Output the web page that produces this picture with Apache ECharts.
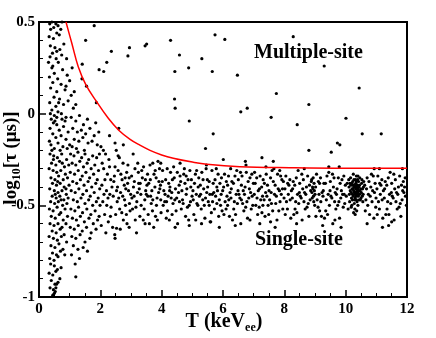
<!DOCTYPE html>
<html lang="en">
<head>
    <meta charset="UTF-8">
    <title>pulse rise time vs energy</title>
    <script src="https://cdn.jsdelivr.net/npm/echarts@6/dist/echarts.min.js"></script>
    <style>
        html, body { margin: 0; padding: 0; background: #fff; }
        #main { width: 436px; height: 338px; }
    </style>
</head>
<body>
<div id="main"></div>
<script>
    // values: [T (keVee), log10 tau]
    const upperLeft = [
        [.35,.49],[.42,.5],[.55,.49],[.62,.48],[.75,.5],[.38,.46],[.58,.44],[.33,.42],[.47,.41],[.66,.43],
        [.37,.37],[.52,.36],[.44,.33],[.68,.35],[.81,.38],[.36,.31],[.56,.3],[.74,.32],[.9,.3],[.63,.28],
        [.42,.25],[.5,.22],[.34,.2],[.61,.19],[.77,.24],[.92,.21],[.45,.17],[.72,.16],[1.0,.18],[.38,.14],
        [.58,.12],[.85,.13],[.49,.09],[.67,.08],[1.05,.1],[.35,.06],[.8,.05],[.55,.04],[.95,.07],[.42,.02],
        [.62,.01],[1.12,.03],[.37,0],[.5,-.01],[.73,0],[.88,-.02],[1.2,.05],[.45,.26],[.88,.15],[1.15,.12],
        [.58,.34],[.71,.46],[.48,.47],[1.08,.25],[.64,.06],[.31,.28]
    ];
    const leftColumn = [
        [.4,-.03],[.47,-.05],[.52,-.04],[.58,-.06],[.36,-.08],[.66,-.09],[.8,-.07],[.95,-.1],[.45,-.11],[.55,-.13],
        [.72,-.12],[.88,-.14],[.34,-.15],[.62,-.16],[.78,-.18],[1.0,-.17],[.5,-.19],[.42,-.2],[.69,-.2],[.92,-.19],
        [.58,-.02],[.85,-.04],[.39,-.17],[.75,-.03],
        [.36,-.22],[.48,-.23],[.6,-.24],[.74,-.22],[.9,-.25],[.41,-.27],[.55,-.28],[.67,-.26],[.83,-.29],[.97,-.28],
        [.33,-.3],[.46,-.31],[.58,-.32],[.71,-.31],[.86,-.33],[.39,-.35],[.52,-.36],[.64,-.34],[.79,-.36],[.93,-.35],
        [.44,-.38],[.57,-.39],[.69,-.38],[.82,-.4],[.98,-.39],[.35,-.41],[.5,-.42],[.62,-.43],[.75,-.42],[.89,-.44],
        [.43,-.45],[.56,-.46],[.68,-.45],[.81,-.47],[.95,-.46],[.38,-.48],[.51,-.49],[.63,-.48],[.77,-.5],[.91,-.49],
        [.47,-.25],[.76,-.27],[.61,-.37],[.88,-.41],[.53,-.44],[.72,-.47],
        [.34,-.52],[.46,-.53],[.59,-.51],[.71,-.54],[.85,-.52],[.4,-.56],[.53,-.57],[.66,-.55],[.79,-.58],[.93,-.56],
        [.36,-.6],[.49,-.61],[.62,-.6],[.75,-.62],[.88,-.6],[.43,-.64],[.56,-.65],[.69,-.63],[.82,-.66],[.33,-.67],
        [.47,-.68],[.6,-.69],[.73,-.67],[.9,-.7],[.39,-.72],[.52,-.73],[.65,-.71],[.78,-.74],[.44,-.76],[.57,-.77],
        [.7,-.75],[.35,-.79],[.49,-.8],[.62,-.78],[.84,-.77],
        [.38,-.82],[.5,-.83],[.6,-.85],[.72,-.84],[.33,-.87],[.45,-.88],[.55,-.86],[.68,-.9],[.4,-.91],[.52,-.93],
        [.62,-.92],[.36,-.95],[.47,-.96],[.5,-.98],[.53,-.97],[.55,-.95],[.45,-.99],[.57,-.93]
    ];
    const lowEnergy = [
        [1.05,-.02],[1.2,-.04],[1.32,-.01],[1.45,-.06],[1.58,-.03],[1.1,-.08],[1.25,-.1],[1.38,-.09],[1.52,-.11],[1.66,-.08],
        [1.8,-.12],[1.15,-.14],[1.3,-.15],[1.43,-.13],[1.6,-.16],[1.73,-.15],[1.9,-.17],[1.08,-.18],[1.22,-.19],[1.48,-.2],
        [1.85,-.05],[1.95,-.1],
        [1.03,-.22],[1.14,-.23],[1.27,-.21],[1.39,-.24],[1.5,-.22],[1.62,-.25],[1.75,-.23],[1.88,-.24],[1.97,-.22],
        [1.08,-.27],[1.2,-.28],[1.33,-.26],[1.45,-.29],[1.57,-.27],[1.7,-.3],[1.82,-.28],[1.94,-.31],
        [1.02,-.32],[1.16,-.33],[1.28,-.31],[1.41,-.34],[1.53,-.32],[1.65,-.35],[1.78,-.33],[1.9,-.36],
        [1.1,-.37],[1.23,-.38],[1.35,-.36],[1.47,-.39],[1.6,-.37],[1.72,-.4],[1.85,-.38],[1.98,-.41],
        [1.05,-.42],[1.18,-.43],[1.3,-.41],[1.43,-.44],[1.55,-.42],[1.67,-.45],[1.8,-.43],[1.93,-.46],
        [1.12,-.47],[1.25,-.48],[1.37,-.46],[1.5,-.49],[1.62,-.47],[1.75,-.5],[1.87,-.48],[1.99,-.5],
        [1.04,-.52],[1.17,-.53],[1.29,-.51],[1.42,-.54],[1.56,-.52],[1.69,-.55],[1.83,-.53],[1.96,-.56],
        [1.09,-.57],[1.22,-.58],[1.35,-.56],[1.48,-.59],[1.63,-.57],[1.77,-.6],[1.91,-.58],
        [1.02,-.62],[1.15,-.63],[1.28,-.61],[1.41,-.64],[1.55,-.62],[1.7,-.65],[1.86,-.63],
        [1.07,-.67],[1.2,-.68],[1.34,-.66],[1.5,-.7],[1.66,-.68],[1.12,-.72],[1.27,-.74],[1.44,-.73],[1.06,-.77],[1.32,-.79],
        [1.18,-.82],[1.2,-.89],[1.58,-.75]
    ];
    const band2to4 = [
        [2.02,-.18],[2.11,-.3],[2.2,-.42],[2.28,-.25],[2.35,-.51],[2.44,-.37],[2.52,-.2],[2.6,-.46],[2.67,-.33],[2.75,-.58],
        [2.83,-.41],[2.9,-.28],[2.97,-.53],[2.05,-.39],[2.14,-.55],[2.23,-.33],[2.31,-.44],[2.4,-.62],[2.48,-.29],[2.56,-.4],
        [2.63,-.52],[2.71,-.36],[2.79,-.47],[2.87,-.6],[2.94,-.35],[2.08,-.48],[2.17,-.22],[2.26,-.59],[2.34,-.36],[2.42,-.45],
        [2.5,-.55],[2.58,-.31],[2.66,-.43],[2.74,-.27],[2.82,-.5],[2.89,-.38],[2.99,-.44],[2.03,-.61],[2.12,-.44],[2.21,-.5],
        [2.3,-.29],[2.38,-.4],[2.47,-.66],[2.55,-.48],[2.62,-.24],[2.7,-.54],[2.78,-.39],[2.86,-.32],[2.95,-.49],[2.06,-.27],
        [2.15,-.36],[2.25,-.46],[2.33,-.56],[2.46,-.34],[2.53,-.42],[2.65,-.63],[2.73,-.45],[2.81,-.35],[2.92,-.42],[2.48,-.68],
        [2.18,-.65],[2.58,-.23],[2.85,-.55],[2.53,-.625],[2.94,-.62],
        [3.02,-.34],[3.1,-.45],[3.18,-.65],[3.25,-.38],[3.33,-.5],[3.41,-.29],[3.48,-.42],[3.56,-.55],[3.63,-.36],[3.71,-.47],
        [3.79,-.31],[3.86,-.58],[3.94,-.41],[3.05,-.52],[3.13,-.3],[3.21,-.43],[3.29,-.56],[3.37,-.35],[3.45,-.47],[3.52,-.39],
        [3.6,-.6],[3.68,-.42],[3.75,-.33],[3.83,-.5],[3.91,-.37],[3.98,-.54],[3.08,-.4],[3.16,-.51],[3.24,-.32],[3.32,-.44],
        [3.4,-.58],[3.47,-.36],[3.55,-.45],[3.62,-.28],[3.7,-.53],[3.78,-.4],[3.85,-.46],[3.93,-.3],[3.03,-.46],[3.11,-.37],
        [3.19,-.48],[3.27,-.41],[3.35,-.31],[3.43,-.52],[3.5,-.44],[3.58,-.38],[3.66,-.49],[3.74,-.62],[3.82,-.35],[3.9,-.43],
        [3.97,-.47],[3.14,-.58],[3.3,-.38],[3.46,-.6],[3.64,-.45],[3.8,-.56],[3.96,-.39],[3.22,-.27],[3.54,-.33],[3.88,-.26]
    ];
    const band4to7 = [
        [4.02,-.37],[4.1,-.48],[4.18,-.3],[4.26,-.42],[4.34,-.55],[4.41,-.35],[4.49,-.46],[4.57,-.39],[4.64,-.52],[4.72,-.33],
        [4.8,-.44],[4.88,-.58],[4.95,-.4],[4.05,-.5],[4.13,-.36],[4.21,-.45],[4.29,-.32],[4.37,-.49],[4.45,-.41],[4.52,-.6],
        [4.6,-.34],[4.68,-.47],[4.76,-.38],[4.84,-.51],[4.92,-.31],[4.99,-.45],[4.07,-.42],[4.15,-.57],[4.23,-.38],[4.31,-.46],
        [4.39,-.29],[4.47,-.53],[4.55,-.43],[4.62,-.37],[4.7,-.49],[4.78,-.56],[4.86,-.36],[4.94,-.48],[4.03,-.31],[4.11,-.44],
        [4.19,-.53],[4.27,-.4],[4.35,-.36],[4.43,-.47],[4.51,-.32],[4.58,-.48],[4.66,-.42],[4.74,-.3],[4.82,-.41],[4.9,-.5],
        [4.97,-.36],[4.25,-.58],[4.9,-.61],[4.44,-.62],[4.6,-.27],[4.33,-.43],[4.8,-.34],[4.16,-.48],
        [5.02,-.42],[5.1,-.33],[5.18,-.5],[5.26,-.39],[5.34,-.47],[5.41,-.57],[5.49,-.36],[5.57,-.44],[5.64,-.31],[5.72,-.52],
        [5.8,-.4],[5.88,-.47],[5.95,-.35],[5.05,-.55],[5.13,-.44],[5.21,-.35],[5.29,-.52],[5.37,-.41],[5.45,-.3],[5.52,-.48],
        [5.6,-.59],[5.68,-.38],[5.76,-.45],[5.84,-.33],[5.92,-.5],[5.99,-.42],[5.07,-.38],[5.15,-.49],[5.23,-.45],[5.31,-.32],
        [5.39,-.5],[5.47,-.43],[5.55,-.37],[5.62,-.54],[5.7,-.43],[5.78,-.3],[5.86,-.56],[5.94,-.44],[5.03,-.47],[5.11,-.58],
        [5.19,-.4],[5.27,-.44],[5.35,-.36],[5.43,-.46],[5.5,-.4],[5.58,-.59],[5.66,-.48],[5.74,-.36],[5.82,-.42],[5.9,-.38],
        [5.97,-.53],[5.3,-.6],[5.46,-.28],[5.65,-.44],[5.8,-.49],[5.14,-.31],[5.55,-.5],[5.88,-.62],
        [6.02,-.4],[6.1,-.52],[6.18,-.34],[6.26,-.46],[6.34,-.38],[6.41,-.55],[6.49,-.42],[6.57,-.32],[6.64,-.49],[6.72,-.4],
        [6.8,-.57],[6.88,-.35],[6.95,-.45],[6.05,-.33],[6.13,-.45],[6.21,-.56],[6.29,-.37],[6.37,-.48],[6.45,-.31],[6.52,-.44],
        [6.6,-.39],[6.68,-.53],[6.76,-.32],[6.84,-.46],[6.92,-.52],[6.99,-.38],[6.07,-.48],[6.15,-.39],[6.23,-.43],[6.31,-.58],
        [6.39,-.34],[6.47,-.49],[6.55,-.46],[6.62,-.34],[6.7,-.44],[6.78,-.48],[6.86,-.41],[6.94,-.33],[6.03,-.55],[6.11,-.37],
        [6.19,-.47],[6.27,-.41],[6.35,-.52],[6.43,-.44],[6.5,-.36],[6.58,-.6],[6.66,-.42],[6.74,-.51],[6.82,-.37],[6.9,-.43],
        [6.97,-.5],[6.25,-.3],[6.4,-.61],[6.6,-.47],[6.75,-.28],[6.88,-.58],[6.15,-.5]
    ];
    const band7to10 = [
        [7.02,-.44],[7.1,-.35],[7.18,-.51],[7.26,-.4],[7.34,-.47],[7.41,-.33],[7.49,-.55],[7.57,-.43],[7.64,-.37],[7.72,-.49],
        [7.8,-.41],[7.88,-.34],[7.95,-.52],[7.05,-.38],[7.13,-.55],[7.21,-.34],[7.29,-.45],[7.37,-.56],[7.45,-.39],[7.52,-.47],
        [7.6,-.31],[7.68,-.44],[7.76,-.58],[7.84,-.42],[7.92,-.36],[7.99,-.46],[7.07,-.5],[7.15,-.42],[7.23,-.47],[7.31,-.36],
        [7.39,-.43],[7.47,-.5],[7.55,-.35],[7.62,-.53],[7.7,-.39],[7.78,-.33],[7.86,-.48],[7.94,-.41],[7.03,-.32],[7.11,-.46],
        [7.19,-.41],[7.27,-.54],[7.35,-.38],[7.43,-.45],[7.5,-.42],[7.58,-.49],[7.66,-.3],[7.74,-.45],[7.82,-.53],[7.9,-.44],
        [7.97,-.37],[7.2,-.6],[7.4,-.29],[7.55,-.59],[7.7,-.62],[7.85,-.31],[7.3,-.5],
        [8.02,-.41],[8.1,-.52],[8.18,-.36],[8.26,-.46],[8.34,-.39],[8.41,-.54],[8.49,-.43],[8.57,-.33],[8.64,-.48],[8.72,-.4],
        [8.8,-.56],[8.88,-.37],[8.95,-.45],[8.05,-.34],[8.13,-.44],[8.21,-.57],[8.29,-.37],[8.37,-.48],[8.45,-.31],[8.52,-.45],
        [8.6,-.41],[8.68,-.52],[8.76,-.34],[8.84,-.47],[8.92,-.4],[8.99,-.5],[8.07,-.48],[8.15,-.39],[8.23,-.42],[8.31,-.55],
        [8.39,-.35],[8.47,-.49],[8.55,-.46],[8.62,-.36],[8.7,-.44],[8.78,-.49],[8.86,-.42],[8.94,-.35],[8.03,-.55],[8.11,-.38],
        [8.19,-.47],[8.27,-.41],[8.35,-.52],[8.43,-.44],[8.5,-.38],[8.58,-.58],[8.66,-.43],[8.74,-.51],[8.82,-.39],[8.9,-.43],
        [8.97,-.38],[8.91,-.46],[8.93,-.41],[8.96,-.48],[8.89,-.36],[9.0,-.44],[8.98,-.42],[8.4,-.6],[8.65,-.3],
        [9.02,-.4],[9.1,-.51],[9.18,-.35],[9.26,-.45],[9.34,-.38],[9.41,-.55],[9.49,-.42],[9.57,-.33],[9.64,-.48],[9.72,-.41],
        [9.8,-.57],[9.88,-.36],[9.95,-.44],[9.05,-.33],[9.13,-.44],[9.21,-.56],[9.29,-.38],[9.37,-.47],[9.45,-.32],[9.52,-.45],
        [9.6,-.4],[9.68,-.52],[9.76,-.35],[9.84,-.46],[9.92,-.51],[9.99,-.39],[9.07,-.47],[9.15,-.38],[9.23,-.43],[9.31,-.57],
        [9.39,-.34],[9.47,-.5],[9.55,-.46],[9.62,-.35],[9.7,-.44],[9.78,-.48],[9.86,-.42],[9.94,-.34],[9.03,-.56],[9.11,-.37],
        [9.19,-.48],[9.27,-.42],[9.35,-.53],[9.43,-.44],[9.5,-.37],[9.58,-.6],[9.66,-.43],[9.74,-.5],[9.82,-.38],[9.9,-.44],
        [9.97,-.49],[9.25,-.61],[9.45,-.29],[9.65,-.58],[9.85,-.62],[9.15,-.53]
    ];
    const cluster = [
        [10.1,-.36],[10.15,-.42],[10.2,-.38],[10.25,-.45],[10.3,-.4],[10.35,-.37],[10.4,-.43],[10.45,-.39],[10.5,-.46],[10.55,-.41],
        [10.12,-.44],[10.17,-.39],[10.22,-.47],[10.27,-.36],[10.32,-.43],[10.37,-.48],[10.42,-.37],[10.47,-.42],[10.52,-.38],[10.57,-.44],
        [10.11,-.4],[10.16,-.35],[10.21,-.41],[10.26,-.42],[10.31,-.46],[10.36,-.4],[10.41,-.45],[10.46,-.35],[10.51,-.43],[10.56,-.48],
        [10.13,-.48],[10.18,-.43],[10.23,-.37],[10.28,-.49],[10.33,-.38],[10.38,-.44],[10.43,-.4],[10.48,-.47],[10.53,-.36],[10.58,-.4],
        [10.14,-.38],[10.19,-.46],[10.24,-.41],[10.29,-.39],[10.34,-.45],[10.39,-.36],[10.44,-.47],[10.49,-.41],[10.54,-.45],[10.59,-.37],
        [10.2,-.5],[10.3,-.52],[10.4,-.5],[10.25,-.33],[10.35,-.34],[10.45,-.44],[10.28,-.43],[10.33,-.41],[10.38,-.39],[10.42,-.42],
        [10.22,-.44],[10.27,-.4],[10.32,-.36],[10.37,-.42],[10.3,-.44],[10.35,-.47],[10.24,-.39],[10.29,-.47],[10.34,-.43],[10.39,-.41],
        [10.31,-.55],[10.36,-.53],[10.26,-.54],[10.4,-.34],[10.18,-.51]
    ];
    const band10to12 = [
        [10.02,-.45],[10.05,-.38],[10.08,-.52],[10.62,-.39],[10.66,-.47],[10.7,-.35],[10.74,-.44],[10.78,-.55],[10.82,-.4],[10.86,-.48],
        [10.9,-.34],[10.94,-.43],[10.98,-.51],[10.64,-.53],[10.68,-.41],[10.72,-.5],[10.76,-.37],[10.8,-.45],[10.84,-.33],[10.88,-.42],
        [10.92,-.57],[10.96,-.38],[10.99,-.46],
        [11.02,-.41],[11.1,-.52],[11.18,-.36],[11.26,-.46],[11.34,-.39],[11.41,-.55],[11.49,-.43],[11.57,-.33],[11.64,-.48],[11.72,-.4],
        [11.8,-.56],[11.88,-.37],[11.95,-.45],[11.05,-.34],[11.13,-.44],[11.21,-.57],[11.29,-.37],[11.37,-.48],[11.45,-.32],[11.52,-.45],
        [11.6,-.41],[11.68,-.52],[11.76,-.34],[11.84,-.47],[11.92,-.4],[11.98,-.5],[11.07,-.48],[11.15,-.39],[11.23,-.42],[11.31,-.55],
        [11.39,-.35],[11.47,-.49],[11.55,-.46],[11.62,-.36],[11.7,-.44],[11.78,-.49],[11.86,-.42],[11.94,-.35],[11.03,-.55],[11.11,-.38],
        [11.19,-.47],[11.27,-.41],[11.35,-.52],[11.43,-.44],[11.5,-.38],[11.58,-.58],[11.66,-.43],[11.74,-.51],[11.82,-.39],[11.9,-.43],
        [10.7,-.6],[11.2,-.62],[11.5,-.59],[11.85,-.3],[11.1,-.3],[11.4,-.61]
    ];
    const multiSite = [
        [1.8,.48],[1.52,.4],[2.36,.34],[2.95,.36],[2.9,.315],[3.51,.38],[2.21,.28],[1.96,.24],[2.11,.23],[1.41,.27],
        [1.4,.19],[1.55,.15],[1.87,.06],[3.46,.37],[4.29,.4],[5.74,.43],[6.06,.405],[4.58,.32],[5.31,.3],[4.43,.23],
        [4.88,.25],[5.65,.23],[6.47,.21],[4.42,.08],[4.44,.03],[7.74,.11],[6.58,.01],[6.79,.03],[7.57,-.02],[8.29,.42],
        [9.3,.26],[10.44,.14],[8.8,.05],[10.01,-.025],[8.42,-.06],[10.54,-.11],[11.16,-.11],[8.8,-.2],[9.53,-.21],[9.73,-.16],
        [9.81,-.17],[9.79,-.29],[10.93,-.3],[4.9,-.04],[5.68,-.11],[5.43,-.19],[6.01,-.25],[6.73,-.26],[7.27,-.24],[7.64,-.26],
        [3.71,-.27],[3.97,-.27],[2.48,-.16],[2.75,-.17],[3.07,-.22],[2.1,-.2],[2.3,-.12],[2.6,-.08]
    ];

    // red separation curve
    const curveT = [0.88, 1.07, 1.28, 1.53, 1.88, 2.26, 2.6, 2.97, 3.29, 3.62, 4.0, 4.38, 5.0, 5.47, 6.55, 8.18, 10, 12];
    const curveY = [0.5, 0.384, 0.256, 0.157, 0.065, -0.025, -0.09, -0.14, -0.172, -0.2, -0.225, -0.243, -0.264, -0.276, -0.289, -0.295, -0.298, -0.298];

    const xRange = [0, 12, 2];
    const yRange = [-1, 0.5, 0.5];

    const points = [].concat(upperLeft, leftColumn, lowEnergy, band2to4, band4to7, band7to10, cluster, band10to12, multiSite);
    const curve = curveT.map((t, i) => [t, curveY[i]]);

    const serif = '"Liberation Serif", "Times New Roman", serif';

    let mychart = echarts.init(document.getElementById('main'));
    let options = {
        animation: false,
        grid: {
            left: 39, right: 29, top: 22, bottom: 41,
            show: true, borderColor: '#000', borderWidth: 2
        },
        xAxis: {
            type: 'value',
            min: xRange[0], max: xRange[1], interval: xRange[2],
            axisLine: { onZero: false, lineStyle: { color: '#000', width: 2 } },
            axisTick: { inside: true, length: 7, lineStyle: { color: '#000', width: 1.5 } },
            minorTick: { show: true, splitNumber: 4, length: 4, lineStyle: { color: '#000', width: 1 } },
            splitLine: { show: false },
            axisLabel: { color: '#000', fontFamily: serif, fontWeight: 'bold', fontSize: 15, margin: 5 }
        },
        yAxis: {
            type: 'value',
            min: yRange[0], max: yRange[1], interval: yRange[2],
            axisLine: { onZero: false, lineStyle: { color: '#000', width: 2 } },
            axisTick: { inside: true, length: 7, lineStyle: { color: '#000', width: 1.5 } },
            minorTick: { show: true, splitNumber: 5, length: 4, lineStyle: { color: '#000', width: 1 } },
            splitLine: { show: false },
            axisLabel: { color: '#000', fontFamily: serif, fontWeight: 'bold', fontSize: 15, margin: 4 }
        },
        series: [{
            type: 'scatter',
            data: points,
            symbolSize: 3.2,
            itemStyle: { color: '#000', opacity: 1 },
            silent: true
        }, {
            type: 'line',
            data: curve,
            smooth: 0.4,
            showSymbol: false,
            lineStyle: { color: '#ff0000', width: 1.5 },
            silent: true,
            z: 3
        }],
        graphic: [{
            type: 'text', x: 254, y: 53,
            style: { text: 'Multiple-site', font: 'bold 20px ' + serif, fill: '#000', verticalAlign: 'middle' }
        }, {
            type: 'text', x: 255, y: 240,
            style: { text: 'Single-site', font: 'bold 20px ' + serif, fill: '#000', verticalAlign: 'middle' }
        }, {
            type: 'text', x: 224, y: 322,
            style: {
                text: '{n|T (keV}{s|ee}{n|)}',
                align: 'center', verticalAlign: 'middle',
                rich: {
                    n: { fontFamily: serif, fontWeight: 'bold', fontSize: 20, lineHeight: 24, fill: '#000' },
                    s: { fontFamily: serif, fontWeight: 'bold', fontSize: 12, lineHeight: 12, verticalAlign: 'bottom', fill: '#000' }
                }
            }
        }, {
            type: 'text', x: 11, y: 158, rotation: Math.PI / 2,
            style: {
                text: '{n|log}{s|10}{n|[τ (μs)]}',
                align: 'center', verticalAlign: 'middle',
                rich: {
                    n: { fontFamily: serif, fontWeight: 'bold', fontSize: 19, lineHeight: 24, fill: '#000' },
                    s: { fontFamily: serif, fontWeight: 'bold', fontSize: 12, lineHeight: 12, verticalAlign: 'bottom', fill: '#000' }
                }
            }
        }]
    };
    mychart.setOption(options);
</script>
</body>
</html>
